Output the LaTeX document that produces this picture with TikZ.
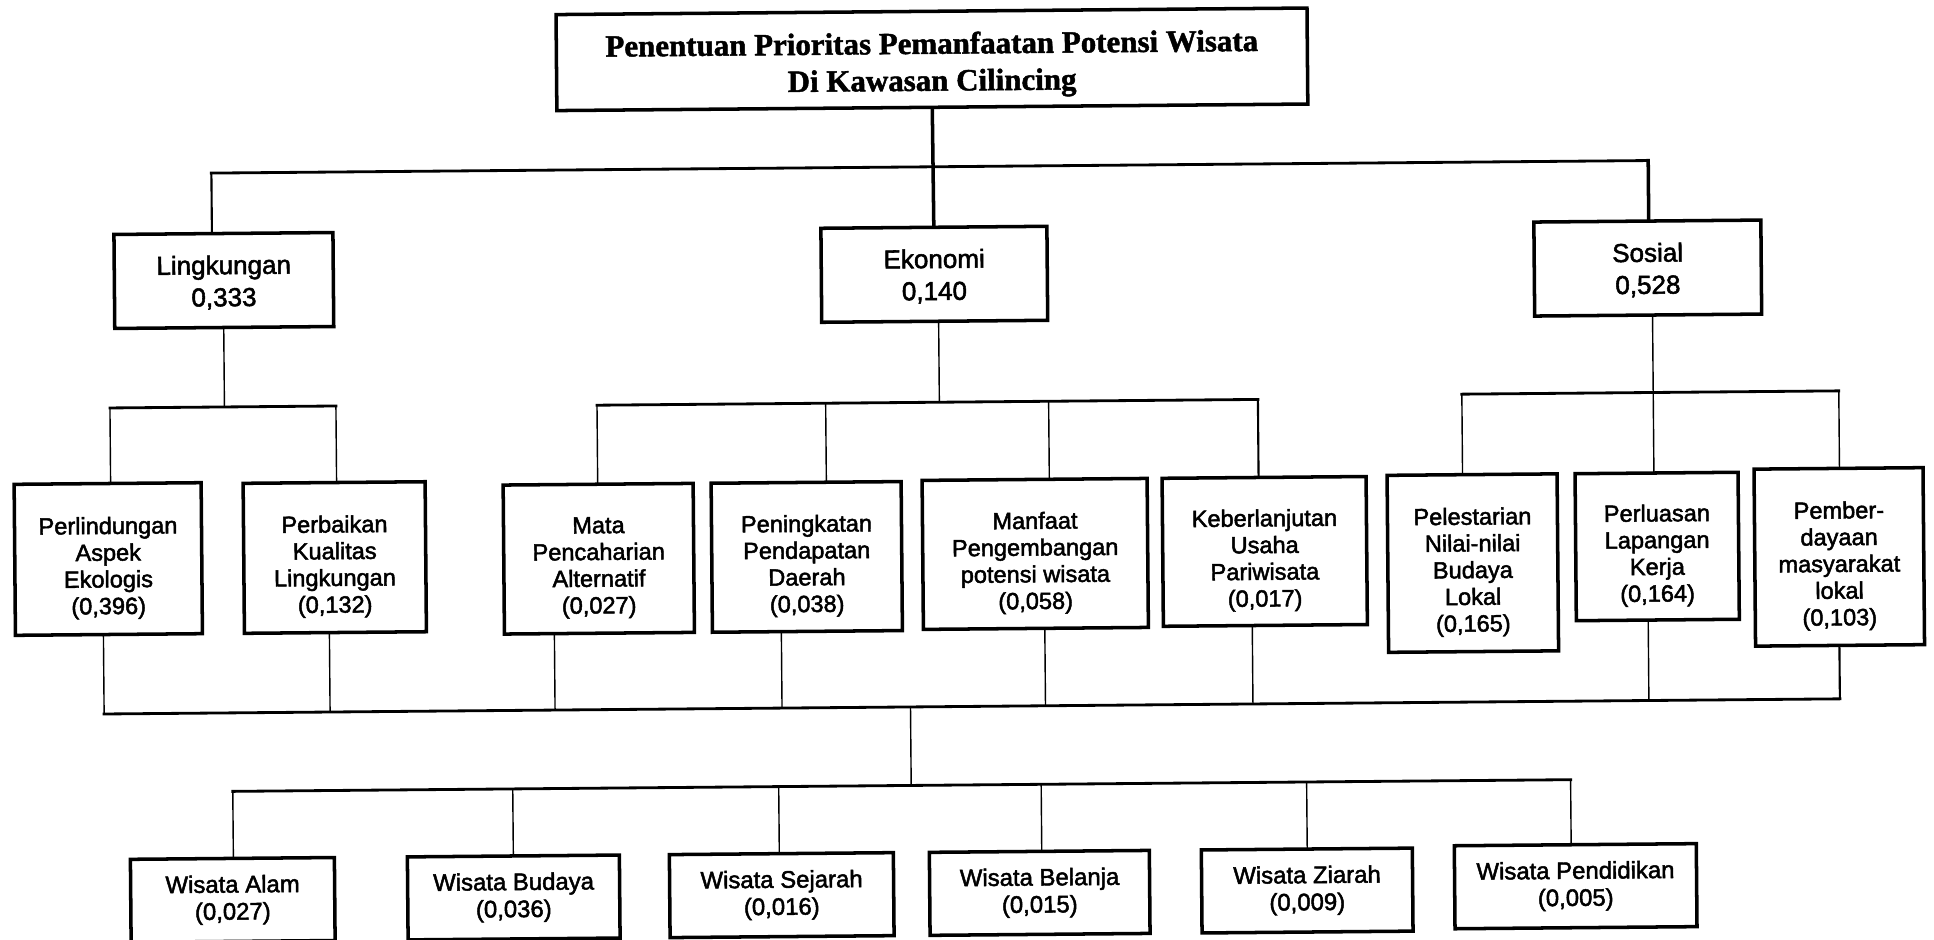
\documentclass[tikz,border=0pt]{standalone}
\usepackage{fontspec}
\setmainfont{Liberation Sans}[FakeBold=2]
\newfontfamily\titlefont{Liberation Serif}[BoldFeatures={FakeBold=1.5}]

\tikzset{
  box/.style={draw, line width=1pt, inner sep=0pt},
  ttxt/.style={align=center, inner sep=0pt, font=\titlefont\bfseries\fontsize{8.8}{10.5}\selectfont},
  mtxt/.style={align=center, inner sep=0pt, font=\fontsize{7.4}{9.1}\selectfont},
  ltxt/.style={align=center, inner sep=0pt, font=\fontsize{6.7}{7.6}\selectfont},
  btxt/.style={align=center, inner sep=0pt, font=\fontsize{6.8}{7.7}\selectfont},
  heavy/.style={line width=1pt},
  busline/.style={line width=0.8pt},
  medium/.style={line width=0.6pt},
  thinline/.style={line width=0.4pt},
}

% box: name, x1, y1, x2, y2, text offset, text style, text
\newcommand\boxat[8]{%
  \node[box, minimum width={(#4-#2)*0.01cm}, minimum height={(#5-#3)*0.01cm}]
    (#1) at ({(#2+#4)/2},{(#3+#5)/2}) {};
  \node[#7] (#1-t) at ({(#2+#4)/2},{(#3+#5)/2+#6}) {#8};}

\begin{document}
\begin{tikzpicture}[x=0.01cm, y=-0.01cm, line cap=rect]
\fill[white] (0,0) rectangle (1934,939);
\useasboundingbox (0,0) rectangle (1934,939);

\begin{scope}[rotate around={0.5:(967,470)}, transform shape]

% ---- goal ----
\boxat{title}{560}{11}{1311}{107}{5.5}{ttxt}{Penentuan Prioritas Pemanfaatan Potensi Wisata\\Di Kawasan Cilincing}

% ---- criteria ----
\boxat{lin}{116}{227}{335}{321}{2}{mtxt}{Lingkungan\\0,333}
\boxat{eko}{823}{227}{1049}{321}{2}{mtxt}{Ekonomi\\0,140}
\boxat{sos}{1536}{227}{1763}{321}{2}{mtxt}{Sosial\\0,528}

% ---- sub-criteria ----
\boxat{perl}{14}{476}{201}{627}{9}{ltxt}{Perlindungan\\Aspek\\Ekologis\\(0,396)}
\boxat{perb}{243}{477}{425}{627}{9}{ltxt}{Perbaikan\\Kualitas\\Lingkungan\\(0,132)}
\boxat{mata}{503}{481}{693}{630}{9}{ltxt}{Mata\\Pencaharian\\Alternatif\\(0,027)}
\boxat{peni}{711}{481}{901}{630}{9}{ltxt}{Peningkatan\\Pendapatan\\Daerah\\(0,038)}
\boxat{manf}{922}{480}{1147}{629}{9}{ltxt}{Manfaat\\Pengembangan\\potensi wisata\\(0,058)}
\boxat{kebe}{1162}{480}{1366}{628}{9}{ltxt}{Keberlanjutan\\Usaha\\Pariwisata\\(0,017)}
\boxat{pele}{1387}{479}{1557}{656}{9}{ltxt}{Pelestarian\\Nilai-nilai\\Budaya\\Lokal\\(0,165)}
\boxat{perlu}{1575}{479}{1738}{626}{9}{ltxt}{Perluasan\\Lapangan\\Kerja\\(0,164)}
\boxat{pemb}{1754}{476}{1923}{653}{9}{ltxt}{Pember-\\dayaan\\masyarakat\\lokal\\(0,103)}

% ---- alternatives ----
\boxat{alam}{127}{852}{331}{935}{0}{btxt}{Wisata Alam\\(0,027)}
\boxat{buda}{404}{852}{616}{935}{0}{btxt}{Wisata Budaya\\(0,036)}
\boxat{seja}{666}{852}{890}{935}{0}{btxt}{Wisata Sejarah\\(0,016)}
\boxat{bela}{926}{852}{1146}{935}{0}{btxt}{Wisata Belanja\\(0,015)}
\boxat{ziar}{1198}{852}{1409}{935}{0}{btxt}{Wisata Ziarah\\(0,009)}
\boxat{pend}{1451}{850}{1693}{933}{0}{btxt}{Wisata Pendidikan\\(0,005)}

% ---- goal to criteria ----
\coordinate (tb-l) at (214,166.5);
\coordinate (tb-r) at (1651,166.5);
\draw[heavy] (title.south) -- (eko.north);
\draw[busline] (tb-l) -- (tb-r);
\draw[medium] (tb-l) -- (tb-l |- lin.north);
\draw[heavy] (tb-r) -- (tb-r |- sos.north);

% ---- Lingkungan branch ----
\coordinate (ls-m) at (225,400.5);
\coordinate (ls-a) at (110.5,400.5);
\coordinate (ls-b) at (336.5,400.5);
\draw[thinline] (ls-m |- lin.south) -- (ls-m);
\draw[busline] (ls-a) -- (ls-b);
\draw[thinline] (ls-a) -- (ls-a |- perl.north);
\draw[thinline] (ls-b) -- (ls-b |- perb.north);

% ---- Ekonomi branch ----
\coordinate (es-m) at (940,402);
\coordinate (es-a) at (597.6,402);
\coordinate (es-b) at (826.3,402);
\coordinate (es-c) at (1049.3,402);
\coordinate (es-d) at (1258.6,402);
\draw[thinline] (es-m |- eko.south) -- (es-m);
\draw[busline] (es-a) -- (es-d);
\draw[thinline] (es-a) -- (es-a |- mata.north);
\draw[thinline] (es-b) -- (es-b |- peni.north);
\draw[thinline] (es-c) -- (es-c |- manf.north);
\draw[medium] (es-d) -- (es-d |- kebe.north);

% ---- Sosial branch ----
\coordinate (ss-a) at (1462.6,398.5);
\coordinate (ss-b) at (1654,398.5);
\coordinate (ss-c) at (1839.6,398.5);
\draw[thinline] (ss-b |- sos.south) -- (ss-b |- perlu.north);
\draw[busline] (ss-a) -- (ss-c);
\draw[thinline] (ss-a) -- (ss-a |- pele.north);
\draw[thinline] (ss-c) -- (ss-c |- pemb.north);

% ---- sub-criteria to alternatives ----
\coordinate (lb-1) at (102,706.5);
\coordinate (lb-2) at (328,706.5);
\coordinate (lb-3) at (553,706.5);
\coordinate (lb-4) at (780,706.5);
\coordinate (lb-5) at (1043.5,706.5);
\coordinate (lb-6) at (1251,706.5);
\coordinate (lb-7) at (1647,706.5);
\coordinate (lb-8) at (1838,706.5);
\draw[busline] (lb-1) -- (lb-8);
\draw[thinline] (lb-1 |- perl.south) -- (lb-1);
\draw[thinline] (lb-2 |- perb.south) -- (lb-2);
\draw[thinline] (lb-3 |- mata.south) -- (lb-3);
\draw[thinline] (lb-4 |- peni.south) -- (lb-4);
\draw[thinline] (lb-5 |- manf.south) -- (lb-5);
\draw[thinline] (lb-6 |- kebe.south) -- (lb-6);
\draw[thinline] (lb-7 |- perlu.south) -- (lb-7);
\draw[medium] (lb-8 |- pemb.south) -- (lb-8);

\coordinate (lb-m) at (908.5,706.5);
\coordinate (ab-m) at (908.5,785);
\draw[thinline] (lb-m) -- (ab-m);

\coordinate (ab-1) at (230,785);
\coordinate (ab-2) at (510,785);
\coordinate (ab-3) at (776,785);
\coordinate (ab-4) at (1038.5,785);
\coordinate (ab-5) at (1304,785);
\coordinate (ab-6) at (1568,785);
\draw[busline] (ab-1) -- (ab-6);
\draw[thinline] (ab-1) -- (ab-1 |- alam.north);
\draw[thinline] (ab-2) -- (ab-2 |- buda.north);
\draw[thinline] (ab-3) -- (ab-3 |- seja.north);
\draw[thinline] (ab-4) -- (ab-4 |- bela.north);
\draw[thinline] (ab-5) -- (ab-5 |- ziar.north);
\draw[thinline] (ab-6) -- (ab-6 |- pend.north);

\end{scope}
\end{tikzpicture}
\end{document}
